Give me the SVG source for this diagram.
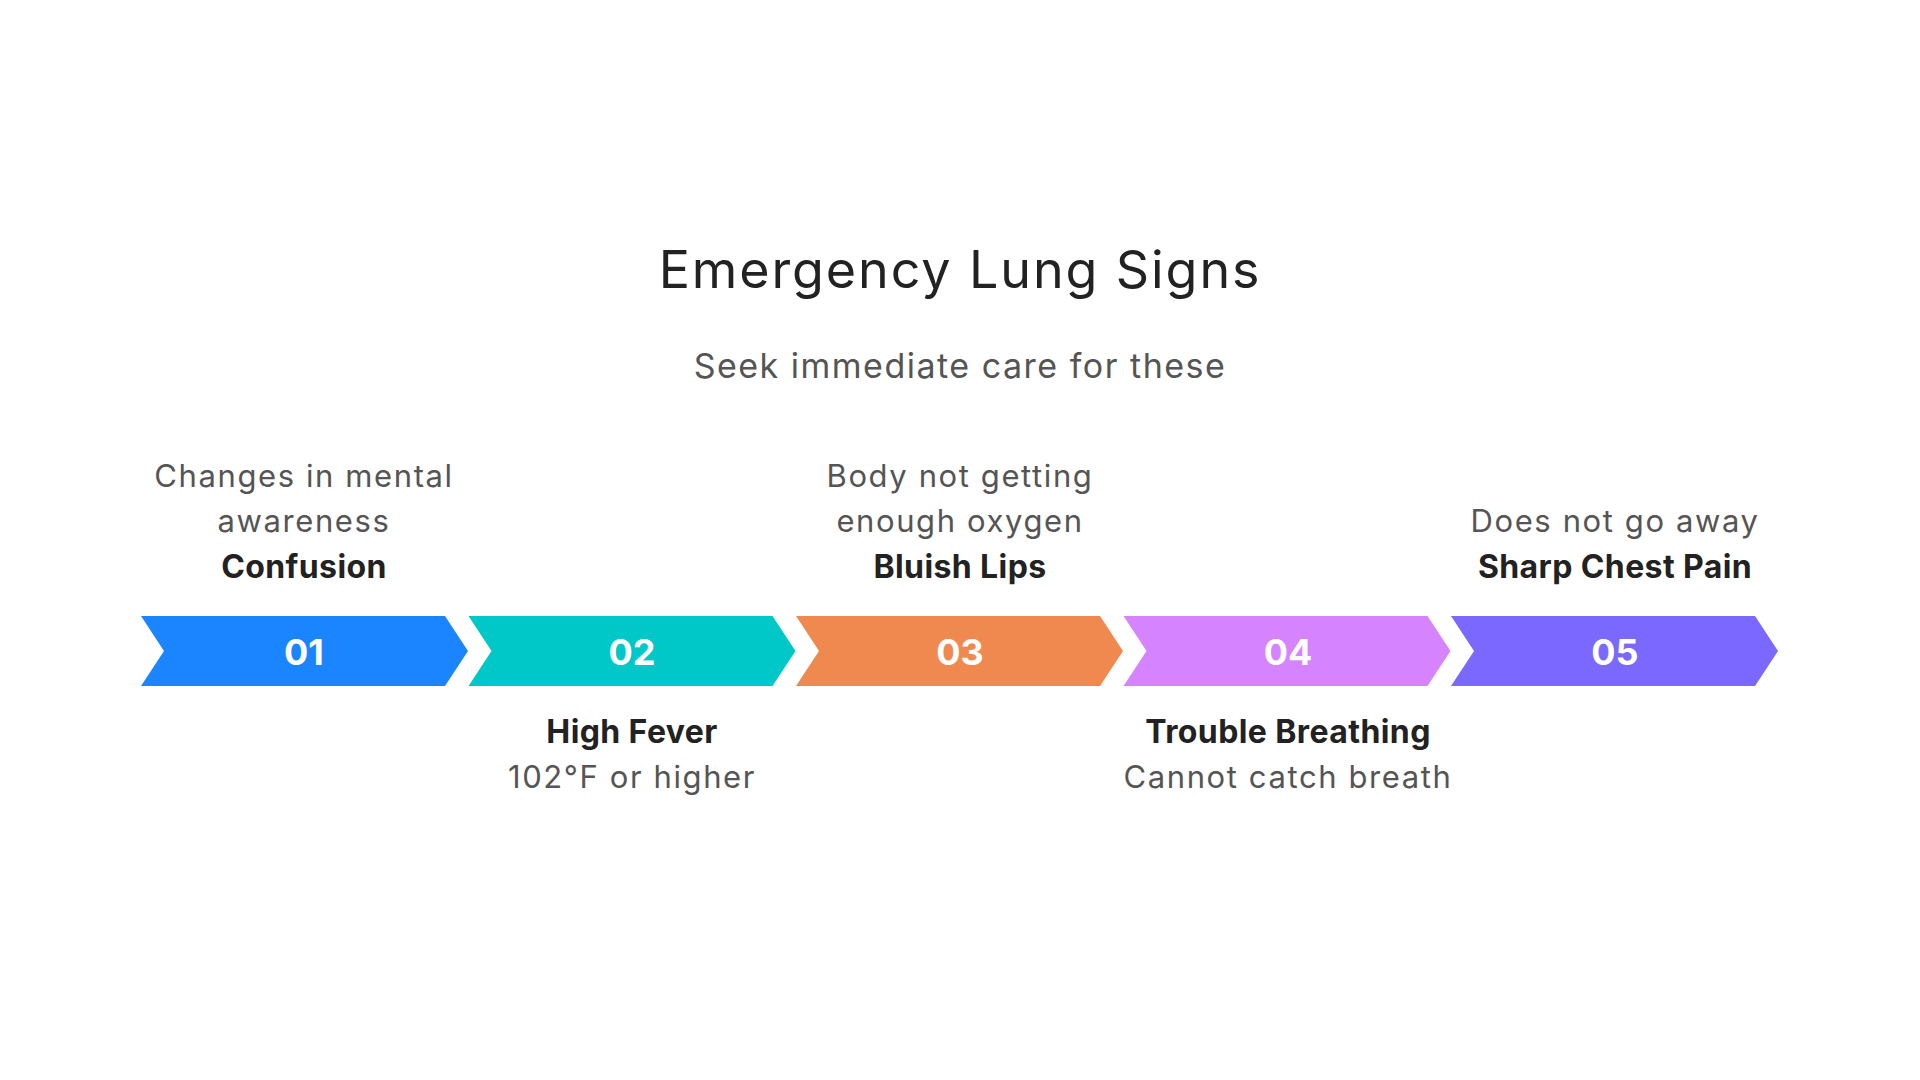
<svg xmlns="http://www.w3.org/2000/svg" width="1920" height="1080" viewBox="0 0 1920 1080">
<style>
.t{font-family:Inter,"Noto Sans","Liberation Sans",sans-serif;text-anchor:middle}
.title{font-size:52px;letter-spacing:1.9px;fill:#222}
.sub{font-size:34px;letter-spacing:1.5px;fill:#555}
.d{font-size:31px;letter-spacing:1.6px;fill:#555}
.b{font-size:32px;letter-spacing:0.4px;font-weight:bold;fill:#222}
.n{font-size:36px;font-weight:bold;fill:#fff}
</style>
<rect width="1920" height="1080" fill="#fff"/>
<text class="t title" x="960" y="288">Emergency Lung Signs</text>
<text class="t sub" x="960" y="378">Seek immediate care for these</text>
<g id="step1">
<path d="M141,616 H445 L468,651 L445,686 H141 L164,651 Z" fill="#1A85FF"/>
<text class="t n" x="304" y="665">01</text>
<text class="t d" x="304" y="487">Changes in mental</text>
<text class="t d" x="304" y="532">awareness</text>
<text class="t b" x="304" y="578">Confusion</text>
</g>
<g id="step2">
<path d="M468.5,616 H772.5 L795.5,651 L772.5,686 H468.5 L491.5,651 Z" fill="#00C8C8"/>
<text class="t n" x="632" y="665">02</text>
<text class="t b" x="632" y="743">High Fever</text>
<text class="t d" x="632" y="788">102°F or higher</text>
</g>
<g id="step3">
<path d="M796,616 H1100 L1123,651 L1100,686 H796 L819,651 Z" fill="#F0894F"/>
<text class="t n" x="960" y="665">03</text>
<text class="t d" x="960" y="487">Body not getting</text>
<text class="t d" x="960" y="532">enough oxygen</text>
<text class="t b" x="960" y="578">Bluish Lips</text>
</g>
<g id="step4">
<path d="M1123.5,616 H1427.5 L1450.5,651 L1427.5,686 H1123.5 L1146.5,651 Z" fill="#D683FF"/>
<text class="t n" x="1288" y="665">04</text>
<text class="t b" x="1288" y="743">Trouble Breathing</text>
<text class="t d" x="1288" y="788">Cannot catch breath</text>
</g>
<g id="step5">
<path d="M1451,616 H1755 L1778,651 L1755,686 H1451 L1474,651 Z" fill="#7A68FF"/>
<text class="t n" x="1615" y="665">05</text>
<text class="t d" x="1615" y="532">Does not go away</text>
<text class="t b" x="1615" y="578">Sharp Chest Pain</text>
</g>
<g id="connectors"></g>
</svg>
